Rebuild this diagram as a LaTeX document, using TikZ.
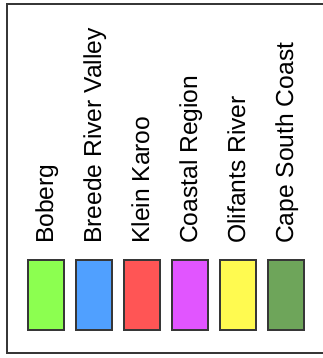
\documentclass[tikz,border=0pt]{standalone}
\usepackage{fontspec}
\setmainfont{Liberation Sans}
\usetikzlibrary{positioning}
\definecolor{wrframe}{RGB}{55, 55, 55}
\definecolor{boberg}{RGB}{140, 255, 80}
\definecolor{breede}{RGB}{80, 160, 255}
\definecolor{klein}{RGB}{255, 85, 85}
\definecolor{coastal}{RGB}{225, 85, 255}
\definecolor{olifants}{RGB}{255, 250, 80}
\definecolor{capesouth}{RGB}{110, 165, 90}
\tikzset{
  swatch/.style={rectangle, draw=wrframe, line width=2pt, fill=#1,
                 minimum width=36pt, minimum height=70pt, inner sep=0pt},
  swatch/.default=white,
  region/.style={rotate=90, anchor=base west, inner sep=0pt,
                 font=\fontsize{24.6}{29}\selectfont},
}
\begin{document}
\begin{tikzpicture}[x=1pt, y=-1pt]
        \useasboundingbox (0, 0) rectangle (322, 358);
        % frame
        \draw[wrframe, line width=2pt] (330, 4) -- (7, 4) -- (7, 352.5) -- (330, 352.5);

        % Boberg
        \node[swatch=boberg] (bobergbox) at (46, 295) {};
        \node[region] (boberglbl) at (53, 244) {Boberg};

        % Breede River Valley
        \node[swatch=breede] (breedebox) at (94, 295) {};
        \node[region] (breedelbl) at (101, 244) {Breede River Valley};

        % Klein Karoo
        \node[swatch=klein] (kleinbox) at (142, 295) {};
        \node[region] (kleinlbl) at (149, 244) {Klein Karoo};

        % Coastal Region
        \node[swatch=coastal] (coastalbox) at (190, 295) {};
        \node[region] (coastallbl) at (197, 244) {Coastal Region};

        % Olifants River
        \node[swatch=olifants] (olifantsbox) at (238, 295) {};
        \node[region] (olifantslbl) at (245, 244) {Olifants River};

        % Cape South Coast
        \node[swatch=capesouth] (capesouthbox) at (286, 295) {};
        \node[region] (capesouthlbl) at (293, 244) {Cape South Coast};
      \end{tikzpicture}
\end{document}
